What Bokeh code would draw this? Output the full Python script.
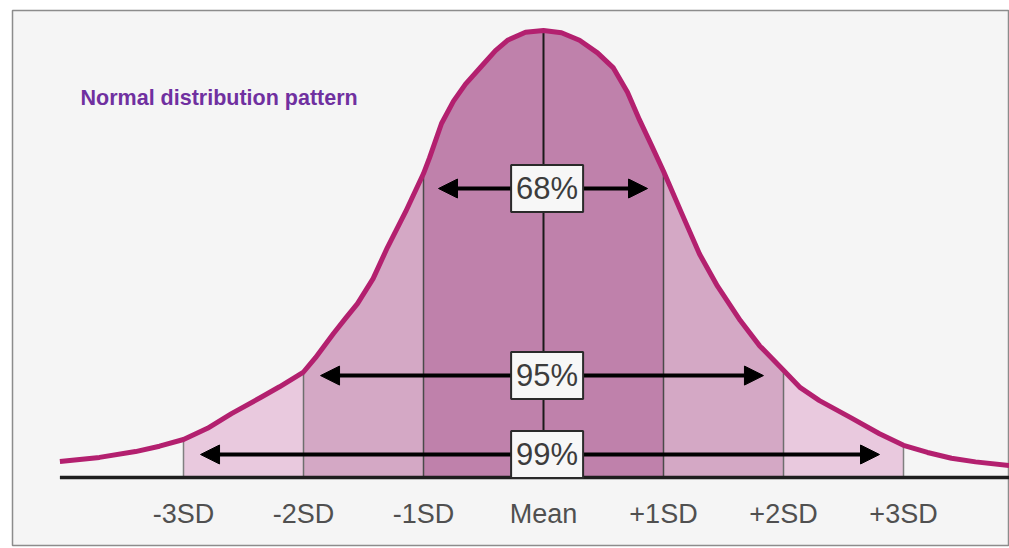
from bokeh.plotting import figure
from bokeh.models import Range1d, Arrow, NormalHead, Label
from bokeh.core.properties import value
from bokeh.embed import file_html
from bokeh.resources import INLINE

# Curve: x in SD units from the mean, height relative to the peak
curve_sd = [-4.03, -3.70, -3.40, -3.20, -3.00, -2.80, -2.60, -2.35, -2.20, -2.00,
            -1.90, -1.75, -1.65, -1.55, -1.42, -1.30, -1.15, -1.00, -0.95, -0.85,
            -0.75, -0.65, -0.50, -0.40, -0.30, -0.15, 0.00, 0.15, 0.30, 0.45,
            0.58, 0.70, 0.80, 0.90, 1.00, 1.15, 1.30, 1.45, 1.64, 1.80,
            2.00, 2.14, 2.30, 2.56, 2.80, 3.00, 3.20, 3.40, 3.60, 3.88]
curve_h = [0.036, 0.045, 0.058, 0.070, 0.085, 0.110, 0.143, 0.180, 0.203, 0.236,
           0.268, 0.322, 0.356, 0.389, 0.445, 0.515, 0.594, 0.680, 0.715, 0.792,
           0.842, 0.880, 0.925, 0.955, 0.978, 0.996, 1.000, 0.995, 0.978, 0.950,
           0.917, 0.862, 0.800, 0.743, 0.685, 0.592, 0.500, 0.428, 0.351, 0.295,
           0.240, 0.201, 0.172, 0.134, 0.098, 0.072, 0.056, 0.043, 0.035, 0.027]

sd_marks = [-3, -2, -1, 0, 1, 2, 3]
sd_labels = ["-3SD", "-2SD", "-1SD", "Mean", "+1SD", "+2SD", "+3SD"]
mark_colors = ["#808080", "#6e6e6e", "#4a4a4a", "#1a1a1a", "#4a4a4a", "#6e6e6e", "#808080"]

band_edges = [(-3, -2), (-2, -1), (-1, 1), (1, 2), (2, 3)]
band_colors = ["#e9c9de", "#d4a8c5", "#bf81ab", "#d4a8c5", "#e9c9de"]

coverage_labels = ["68%", "95%", "99%"]
coverage_start = [-0.875, -1.858, -2.858]
coverage_end = [0.867, 1.833, 2.800]
coverage_level = [0.6465, 0.228, 0.0515]

p = figure(width=1009, height=548,
           x_range=Range1d(-4.425, 3.8833), y_range=Range1d(-0.1521, 1.0447),
           x_axis_type=None, y_axis_type=None,
           toolbar_location=None, output_backend="svg",
           min_border_left=12, min_border_right=0, min_border_top=10, min_border_bottom=3)
p.background_fill_color = "#f5f5f5"
p.border_fill_color = "#ffffff"
p.outline_line_color = "#8c8c8c"
p.outline_line_width = 1.5

# shaded bands under the curve
for (a, b), col in zip(band_edges, band_colors):
    xs = [x for x in curve_sd if a <= x <= b]
    ys = [h for x, h in zip(curve_sd, curve_h) if a <= x <= b]
    p.varea(x=xs, y1=0, y2=ys, fill_color=col)

# vertical SD lines
h_at = dict(zip(curve_sd, curve_h))
p.segment(x0=sd_marks, y0=[0] * len(sd_marks), x1=sd_marks,
          y1=[h_at[s] for s in sd_marks], line_color=mark_colors,
          line_width=[1.5, 1.5, 1.5, 2, 1.5, 1.5, 1.5])

# baseline
p.line(x=[curve_sd[0], curve_sd[-1] + 0.1], y=[0, 0], line_color="#1e1e1e", line_width=3.5)

# curve
p.line(x=curve_sd, y=curve_h, line_color="#b3206f", line_width=5, line_join="round")

# coverage arrows
for xs_, xe_, lv in zip(coverage_start, coverage_end, coverage_level):
    p.add_layout(Arrow(start=NormalHead(size=19, fill_color="black", line_color="black"),
                       end=NormalHead(size=19, fill_color="black", line_color="black"),
                       x_start=xs_, y_start=lv, x_end=xe_, y_end=lv,
                       line_width=4, line_color="black", level="glyph"))

p.rect(x=[0.03] * 3, y=coverage_level, width=72, height=47,
       width_units="screen", height_units="screen",
       fill_color="#f7f7f7", line_color="#2a2a2a", line_width=2, level="overlay")
p.text(x=[0.03] * 3, y=coverage_level, text=coverage_labels,
       text_font=value("Liberation Sans"), text_font_size="31px",
       text_align="center", text_baseline="middle", text_color="#3c3c3c",
       level="overlay")

# SD tick labels
p.text(x=sd_marks, y=-0.081, text=sd_labels,
       text_font=value("Liberation Sans"), text_font_size="27px",
       text_align="center", text_baseline="middle", text_color="#505050")

p.add_layout(Label(x=-3.858, y=0.848, text="Normal distribution pattern",
                   text_font="Liberation Sans", text_font_style="bold",
                   text_font_size="21.5px", text_color="#7030a0",
                   text_baseline="alphabetic"))

open("out.html", "w").write(file_html(p, INLINE))
